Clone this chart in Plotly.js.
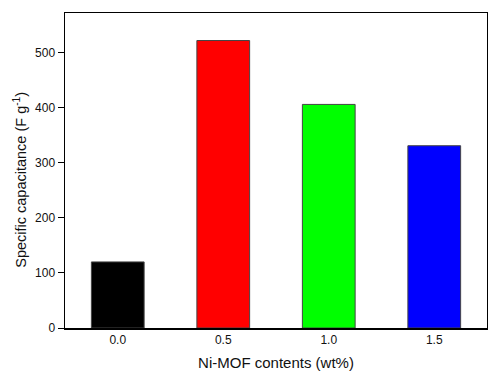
<!DOCTYPE html>
<html><head><meta charset="utf-8">
<script src="https://cdn.plot.ly/plotly-3.0.1.min.js"></script>
<style>body{margin:0;padding:0;background:#fff}#plot{width:488px;height:371px}</style>
</head><body><div id="plot"></div>
<script>
const categories = ["0.0", "0.5", "1.0", "1.5"];
const capacitance = [120, 522, 406, 331];
const barColors = ["#000000", "#ff0000", "#00ff00", "#0000ff"];
const yTitle = "Specific capacitance (F g<sup>-1</sup>)";
const xTitle = "Ni-MOF contents (wt%)";

const trace = {
  type: "bar",
  x: categories,
  y: capacitance,
  width: 0.5,
  marker: {color: barColors, line: {color: "#444", width: 1}},
  hoverinfo: "x+y"
};
const layout = {
  width: 488, height: 371,
  margin: {l: 65, r: 1, t: 13, b: 43},
  paper_bgcolor: "#fff", plot_bgcolor: "#fff",
  font: {family: "Liberation Sans, Arial, sans-serif", color: "#000"},
  showlegend: false,
  xaxis: {
    type: "category", range: [-0.5, 3.5],
    showline: true, mirror: true, linecolor: "#000", linewidth: 1.5,
    ticks: "", showgrid: false, zeroline: false,
    tickfont: {size: 12, color: "#111"},
    title: {text: xTitle, font: {size: 15, color: "#111"}, standoff: 13}
  },
  yaxis: {
    range: [0, 572],
    tickvals: [0, 100, 200, 300, 400, 500],
    showline: true, mirror: true, linecolor: "#000", linewidth: 1.5,
    ticks: "outside", ticklen: 6, tickcolor: "#000",
    showgrid: false, zeroline: false,
    tickfont: {size: 12, color: "#111"}
  },
  annotations: [{
    text: yTitle, textangle: -90, showarrow: false,
    xref: "paper", yref: "paper", x: -0.107, y: 0.47,
    xanchor: "center", yanchor: "middle",
    font: {size: 14.5, color: "#111"}
  }]
};
Plotly.newPlot("plot", [trace], layout, {displayModeBar: false, staticPlot: true});
</script></body></html>
